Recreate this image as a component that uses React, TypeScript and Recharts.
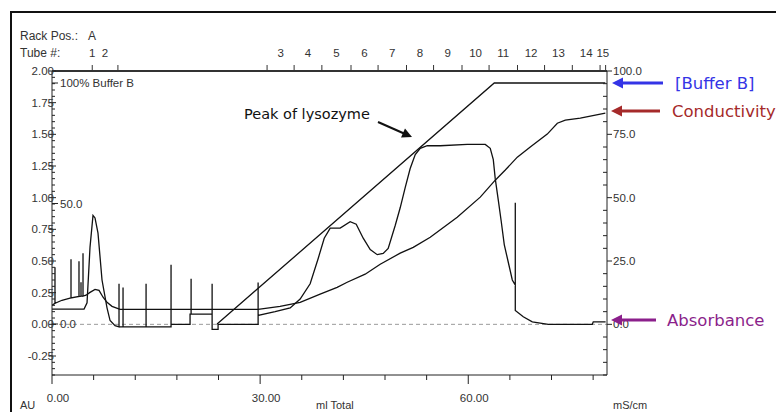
import { ComposedChart, Line, XAxis, YAxis, ReferenceLine } from 'recharts'

const TICK_FONT = '"Liberation Sans", Arial, sans-serif'
const NOTE_FONT = '"DejaVu Sans", Verdana, sans-serif'
const INK = '#222'
const TEXT = '#333'

// UV absorbance (AU) – [mL, AU]; vertical pairs are the air spikes
const absorbance: [number, number][] = [
  [0.0, 0.12], [4.62, 0.12], [5.05, 0.17], [5.48, 0.61], [5.91, 0.86], [6.2, 0.84],
  [6.63, 0.72], [7.21, 0.35], [7.93, 0.13], [8.37, 0.03], [9.09, -0.01],
  [9.66, -0.02], [9.66, 0.32], [9.66, -0.02],
  [10.24, -0.02], [10.24, 0.29], [10.24, -0.02],
  [13.56, -0.02], [13.56, 0.32], [13.56, -0.02],
  [17.16, -0.02], [17.16, 0.47], [17.16, 0.0],
  [19.9, 0.0], [19.9, 0.08],
  [20.05, 0.08], [20.05, 0.36], [20.05, 0.08],
  [23.08, 0.08], [23.08, 0.32], [23.08, -0.04],
  [23.94, -0.04], [23.94, 0.0],
  [29.71, 0.0], [29.71, 0.33], [29.71, 0.07],
  [32.16, 0.1], [34.33, 0.13], [35.77, 0.2], [37.21, 0.32], [38.37, 0.52], [39.24, 0.68],
  [40.1, 0.76], [41.54, 0.76], [42.98, 0.81], [43.85, 0.79], [44.86, 0.68], [45.87, 0.59],
  [46.88, 0.55], [47.74, 0.56], [48.46, 0.6], [49.47, 0.78], [50.19, 0.92], [50.91, 1.08],
  [51.63, 1.23], [52.36, 1.34], [53.08, 1.39], [54.09, 1.41], [55.96, 1.41], [59.86, 1.42],
  [62.45, 1.42], [63.17, 1.39], [63.61, 1.3], [63.89, 1.15], [64.33, 0.98], [64.76, 0.81],
  [65.19, 0.63], [65.77, 0.49], [66.35, 0.35],
  [66.78, 0.31], [66.78, 0.96], [66.78, 0.11],
  [67.93, 0.06], [69.23, 0.02], [70.38, 0.01], [71.54, 0.0], [77.88, 0.0], [78.02, 0.02],
  [79.8, 0.02],
]

// conductivity (mS/cm) – [mL, mS/cm]
const conductivity: [number, number][] = [
  [0.0, 7.5],
  [0.43, 8.3], [0.43, 22.5], [0.43, 8.3],
  [1.44, 9.5], [2.6, 10.3],
  [2.74, 10.4], [2.74, 25.7], [2.74, 10.4],
  [3.89, 11.0], [3.89, 24.9], [3.89, 11.0],
  [4.18, 11.1], [4.18, 16.6], [4.18, 11.1],
  [4.47, 11.1], [4.47, 28.1], [4.47, 11.1],
  [4.9, 11.5], [5.48, 12.6], [6.2, 13.8], [6.78, 13.4], [7.36, 10.7], [7.93, 8.7],
  [8.65, 7.1], [9.81, 5.9], [29.71, 5.9], [32.88, 7.1], [35.77, 8.7], [38.65, 11.9],
  [41.1, 14.6], [42.55, 16.6], [45.14, 19.8], [47.31, 23.7], [50.19, 28.1], [52.07, 30.4],
  [54.52, 34.4], [58.41, 42.3], [61.73, 50.2], [63.89, 56.9], [65.34, 60.9], [67.07, 66.0],
  [68.94, 70.0], [71.39, 75.1], [72.84, 79.4], [73.99, 80.6], [76.15, 81.4], [79.76, 83.4],
]

// gradient – [mL, % Buffer B]
const bufferB: [number, number][] = [
  [23.8, 0], [63.75, 100], [79.76, 100],
]

// fraction collector
const tubeNumbers = [1, 2, 3, 4, 5, 6, 7, 8, 9, 10, 11, 12, 13, 14, 15]
const tubeStarts = [5.8, 5.8, 31.0, 34.9, 38.9, 43.1, 47.0, 51.1, 55.0, 59.1, 63.0, 67.1, 71.0, 75.0, 79.0]
const tubeEnds = [5.8, 9.5, 34.9, 38.9, 43.1, 47.0, 51.1, 55.0, 59.1, 63.0, 67.1, 71.0, 75.0, 79.0, 79.8]

const volumeTicks = [0, 6, 12, 18, 24, 30, 36, 42, 48, 54, 60, 66, 72, 78]
const volumeLabels = [0, 30, 60]
const auTicks = Array.from({ length: 49 }, (_, i) => Math.round((-0.4 + i * 0.05) * 100) / 100)
const condTicks = Array.from({ length: 25 }, (_, i) => -20 + i * 5)
const bufferTicks = [0, 50, 100]

const absRows = absorbance.map(([x, au]) => ({ x, au }))
const condRows = conductivity.map(([x, ms]) => ({ x, ms }))
const bufRows = bufferB.map(([x, b]) => ({ x, b }))

const k = (v: number) => v.toFixed(3)
const tubeEdges = new Set([...tubeStarts, ...tubeEnds].map(k))
const tubeLabelAt = new Map(
  tubeNumbers.map((n, i) => [k((tubeStarts[i] + tubeEnds[i]) / 2), String(n)])
)
const tubeTicks = Array.from(
  new Set([...tubeStarts, ...tubeEnds, ...tubeNumbers.map((_, i) => (tubeStarts[i] + tubeEnds[i]) / 2)].map(k))
)
  .map(Number)
  .sort((a, b) => a - b)

function BottomTick({ x, y, payload }: any) {
  const v = payload.value
  const major = volumeLabels.includes(v)
  return (
    <g>
      <line x1={x} x2={x} y1={y} y2={y + (major ? 9 : 5)} stroke={INK} />
      {major && (
        <text x={x + 6} y={y + 27} textAnchor="middle" fontSize={11.5} fill={TEXT} fontFamily={TICK_FONT}>
          {v.toFixed(2)}
        </text>
      )}
    </g>
  )
}

function TubeTick({ x, y, payload }: any) {
  const key = k(payload.value)
  const label = tubeLabelAt.get(key)
  return (
    <g>
      {tubeEdges.has(key) && <line x1={x} x2={x} y1={y} y2={y - 6} stroke="#333" />}
      {label && (
        <text x={x} y={y - 14} textAnchor="middle" fontSize={11.5} fill={TEXT} fontFamily={TICK_FONT}>
          {label}
        </text>
      )}
    </g>
  )
}

function AuTick({ x, y, payload }: any) {
  const v = payload.value
  const major = Math.abs(v * 4 - Math.round(v * 4)) < 1e-6
  if (!major) return <line x1={x} x2={x + 3} y1={y} y2={y} stroke={INK} />
  return (
    <g>
      <line x1={x - 3} x2={x + 4} y1={y} y2={y} stroke={INK} />
      <text x={x + 2} y={y + 4} textAnchor="end" fontSize={11.5} fill={TEXT} fontFamily={TICK_FONT}>
        {v.toFixed(2)}
      </text>
    </g>
  )
}

function CondTick({ x, y, payload }: any) {
  const v = payload.value
  const major = v >= 0 && v % 25 === 0
  if (!major) return <line x1={x - 4} x2={x} y1={y} y2={y} stroke={INK} />
  return (
    <g>
      <line x1={x} x2={x + 5} y1={y} y2={y} stroke={INK} />
      <text x={x + 6} y={y + 4} fontSize={11.5} fill={TEXT} fontFamily={TICK_FONT}>
        {v.toFixed(1)}
      </text>
    </g>
  )
}

function BufferTick({ x, y, payload }: any) {
  const v = payload.value
  return (
    <g>
      <line x1={x} x2={x + 6} y1={y} y2={y} stroke={INK} />
      <text x={x + 8} y={y + 4} fontSize={11.5} fill={TEXT} fontFamily={TICK_FONT}>
        {v === 100 ? '100% Buffer B' : v.toFixed(1)}
      </text>
    </g>
  )
}

function Arrow({ y, x0, x1, color, label, tx }: { y: number; x0: number; x1: number; color: string; label: string; tx: number }) {
  return (
    <g>
      <line x1={x0 + 8} x2={x1} y1={y} y2={y} stroke={color} strokeWidth={3} />
      <polygon points={`${x0},${y} ${x0 + 11},${y - 5.5} ${x0 + 11},${y + 5.5}`} fill={color} />
      <text x={tx} y={y + 6} fontSize={16.5} fill={color} fontFamily={NOTE_FONT}>
        {label}
      </text>
    </g>
  )
}

export default function App() {
  return (
    <div
      style={{
        position: 'fixed',
        left: 0,
        top: 0,
        width: 776,
        height: 412,
        overflow: 'hidden',
        background: '#fff',
      }}
    >
      <div
        style={{
          position: 'absolute',
          left: 10,
          top: 11,
          width: 800,
          height: 430,
          border: '2px solid #111',
        }}
      />
      <div style={{ position: 'absolute', left: 0, top: 0 }}>
        <ComposedChart width={776} height={430} margin={{ top: 51, right: 129, bottom: 25, left: 12 }}>
          <XAxis
            xAxisId="x"
            dataKey="x"
            type="number"
            domain={[0, 80]}
            ticks={volumeTicks}
            interval={0}
            tickSize={0}
            tickMargin={0}
            tickLine={false}
            tick={(p: any) => <BottomTick {...p} />}
            axisLine={{ stroke: INK }}
            height={30}
            allowDataOverflow
          />
          <XAxis
            xAxisId="tube"
            dataKey="x"
            orientation="top"
            type="number"
            domain={[0, 80]}
            ticks={tubeTicks}
            interval={0}
            tickSize={0}
            tickMargin={0}
            tickLine={false}
            tick={(p: any) => <TubeTick {...p} />}
            axisLine={{ stroke: '#333', strokeWidth: 2 }}
            height={20}
            allowDataOverflow
          />
          <YAxis
            yAxisId="au"
            type="number"
            domain={[-0.4, 2.0]}
            ticks={auTicks}
            interval={0}
            tickSize={0}
            tickMargin={0}
            tickLine={false}
            tick={(p: any) => <AuTick {...p} />}
            axisLine={{ stroke: INK }}
            width={40}
            allowDataOverflow
          />
          <YAxis
            yAxisId="buf"
            orientation="left"
            mirror
            type="number"
            domain={[-21.16, 104.98]}
            ticks={bufferTicks}
            interval={0}
            tickSize={0}
            tickMargin={0}
            tickLine={false}
            tick={(p: any) => <BufferTick {...p} />}
            axisLine={false}
            allowDataOverflow
          />
          <YAxis
            yAxisId="cond"
            orientation="right"
            type="number"
            domain={[-20, 100]}
            ticks={condTicks}
            interval={0}
            tickSize={0}
            tickMargin={0}
            tickLine={false}
            tick={(p: any) => <CondTick {...p} />}
            axisLine={{ stroke: INK }}
            width={40}
            allowDataOverflow
          />
          <ReferenceLine xAxisId="x" yAxisId="au" y={0} stroke="#9a9a9a" strokeDasharray="4 3" />
          {/* gradient is plotted against the fraction axis (same 0–80 mL range) */}
          <Line
            xAxisId="tube"
            yAxisId="buf"
            data={bufRows}
            dataKey="b"
            type="linear"
            stroke="#111"
            strokeWidth={1.3}
            dot={false}
            isAnimationActive={false}
          />
          <Line
            xAxisId="x"
            yAxisId="cond"
            data={condRows}
            dataKey="ms"
            type="linear"
            stroke="#111"
            strokeWidth={1.3}
            dot={false}
            isAnimationActive={false}
          />
          <Line
            xAxisId="x"
            yAxisId="au"
            data={absRows}
            dataKey="au"
            type="linear"
            stroke="#111"
            strokeWidth={1.3}
            dot={false}
            isAnimationActive={false}
          />
        </ComposedChart>
      </div>
      <svg width={776} height={430} style={{ position: 'absolute', left: 0, top: 0, pointerEvents: 'none' }}>
        <g fontFamily={TICK_FONT} fontSize={12} fill={TEXT}>
          <text x={20} y={40}>Rack Pos.:</text>
          <text x={88} y={40}>A</text>
          <text x={20} y={57}>Tube #:</text>
          <text x={20} y={409} fontSize={11}>AU</text>
          <text x={316} y={409} fontSize={11}>ml Total</text>
          <text x={613} y={409} fontSize={11}>mS/cm</text>
        </g>
        <text x={244} y={119} fontFamily={NOTE_FONT} fontSize={14.5} fill="#111">
          Peak of lysozyme
        </text>
        <line x1={378} y1={122} x2={404} y2={133.5} stroke="#111" strokeWidth={2} />
        <polygon points="412,137 401,137.5 405,128.5" fill="#111" />
        <Arrow y={83} x0={612} x1={663} color="#3434e6" label="[Buffer B]" tx={675} />
        <Arrow y={111} x0={611} x1={660} color="#a52a2a" label="Conductivity" tx={672} />
        <Arrow y={320} x0={611} x1={656} color="#8b1f8b" label="Absorbance" tx={667} />
      </svg>
    </div>
  )
}
